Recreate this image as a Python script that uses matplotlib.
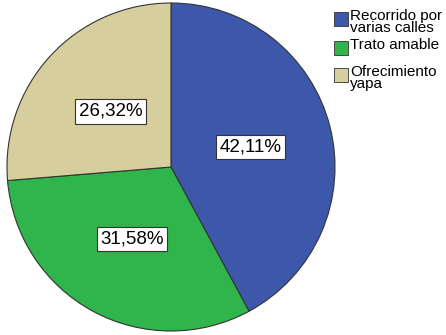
import numpy as np
import matplotlib.pyplot as plt
from matplotlib.patches import Rectangle

# respuestas (porcentaje)
categorias = ["Recorrido por\nvarias calles", "Trato amable", "Ofrecimiento\nyapa"]
porcentajes = [42.11, 31.58, 26.32]
colores = ["#3D58AB", "#2FB54B", "#D6CE9C"]

plt.rcParams['font.family'] = ['Liberation Sans', 'DejaVu Sans']

fig = plt.figure(figsize=(4.46, 3.35), dpi=100)
ax = fig.add_axes([7 / 446, 4 / 335, 328 / 446, 328 / 335])

wedges, textos = ax.pie(
    porcentajes, colors=colores, startangle=90, counterclock=False,
    wedgeprops=dict(edgecolor="#333333", linewidth=0.8),
)

# etiquetas de porcentaje en cajas blancas
for w, p in zip(wedges, porcentajes):
    ang = np.deg2rad((w.theta1 + w.theta2) / 2)
    ax.text(0.5 * np.cos(ang), 0.5 * np.sin(ang), f"{p:.2f}%".replace(".", ","),
            ha="center", va="center", fontsize=13.5,
            bbox=dict(facecolor="white", edgecolor="#333333", linewidth=0.8, pad=2.5))

ax.set_xlim(-1.0, 1.0)
ax.set_ylim(-1.0, 1.0)
ax.set_aspect("equal")

# leyenda manual (estilo SPSS: cuadro alineado a la primera linea)
y_top = [12, 41, 68]
for cat, col, y in zip(categorias, colores, y_top):
    fig.patches.append(Rectangle((334 / 446, 1 - (y + 14) / 335), 14 / 446, 14 / 335,
                                 transform=fig.transFigure, facecolor=col,
                                 edgecolor="#333333", linewidth=0.6))
    fig.text(350 / 446, 1 - (y - 3) / 335, cat, ha="left", va="top",
             fontsize=11, linespacing=0.82)

plt.savefig("out.png", dpi=100)
